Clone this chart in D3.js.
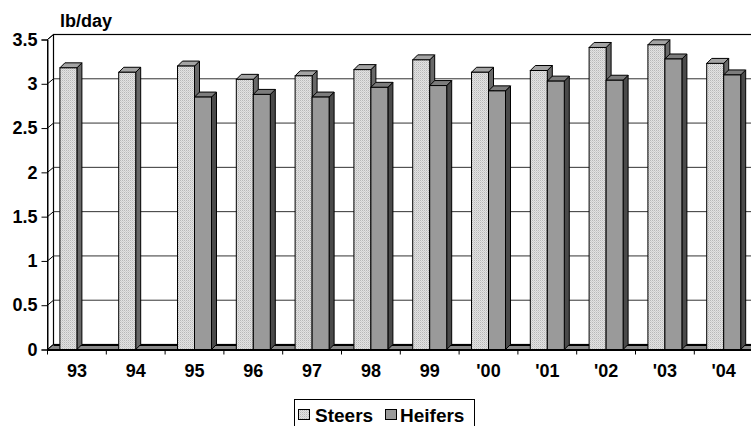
<!DOCTYPE html>
<html><head><meta charset="utf-8">
<script src="https://cdn.jsdelivr.net/npm/d3@7"></script>
<style>
html,body{margin:0;padding:0;background:#fff;}
svg{display:block;font-family:Arial,"Liberation Sans",sans-serif;font-weight:bold;}
</style></head>
<body><svg id="c" width="751" height="426"></svg>
<script>
const categories = ["93","94","95","96","97","98","99","'00","'01","'02","'03","'04"];
const steers  = [3.18, 3.13, 3.20, 3.05, 3.09, 3.16, 3.27, 3.13, 3.15, 3.41, 3.44, 3.23];
const heifers = [null, null, 2.85, 2.88, 2.85, 2.96, 2.98, 2.92, 3.03, 3.04, 3.28, 3.10];
const yTicks = [0, 0.5, 1, 1.5, 2, 2.5, 3, 3.5];
const yTickLabels = ["0","0.5","1","1.5","2","2.5","3","3.5"];
const seriesNames = ["Steers","Heifers"];

const svg = d3.select("#c");
const defs = svg.append("defs");
const pat = defs.append("pattern").attr("id","dots").attr("width",2).attr("height",2).attr("patternUnits","userSpaceOnUse");
pat.append("rect").attr("width",2).attr("height",2).attr("fill","#e2e2e2");
pat.append("rect").attr("width",1).attr("height",1).attr("fill","#b8b8b8");
pat.append("rect").attr("x",1).attr("y",1).attr("width",1).attr("height",1).attr("fill","#cfcfcf");

const x0 = d3.scaleBand().domain(categories).range([47.5, 753.1]).paddingInner(0).paddingOuter(0);
const x1 = d3.scaleBand().domain(seriesNames).range([0, x0.bandwidth()]).paddingInner(0).paddingOuter(0.73);
const y = d3.scaleLinear().domain([0, 3.5]).range([349.5, 39.5]);

const W = {dx: 6, dy: -5};   // wall depth
const B = {dx: 5, dy: -5};   // bar depth
const xL = 47.5, xR = 770;
const y0 = y(0), yTop = y(3.5);

svg.append("path").attr("d", `M${xL},${yTop}L${xL+W.dx},${yTop+W.dy}L${xL+W.dx},${y0+W.dy}L${xL},${y0}Z`)
  .attr("fill","#fff").attr("stroke","#000").attr("stroke-width",1);
svg.append("rect").attr("x", xL+W.dx).attr("y", yTop+W.dy).attr("width", xR-xL-W.dx).attr("height", y0-yTop)
  .attr("fill","#fff").attr("stroke","#000").attr("stroke-width",1.2);

const g = svg.append("g");
yTicks.filter(v => v > 0 && v < 3.5).forEach(v => {
  g.append("line").attr("x1", xL+W.dx).attr("x2", xR).attr("y1", y(v)+W.dy).attr("y2", y(v)+W.dy)
    .attr("stroke","#333").attr("stroke-width",1);
});
yTicks.forEach(v => {
  g.append("line").attr("x1", xL).attr("x2", xL+W.dx).attr("y1", y(v)).attr("y2", y(v)+W.dy)
    .attr("stroke","#000").attr("stroke-width",1);
});

svg.append("path").attr("d", `M${xL},${y0}L${xL+W.dx},${y0+W.dy}L${xR},${y0+W.dy}L${xR},${y0}Z`)
  .attr("fill","#8a8a8a").attr("stroke","#000").attr("stroke-width",1);
svg.append("line").attr("x1", xL+W.dx).attr("x2", xR).attr("y1", y0+W.dy+0.5).attr("y2", y0+W.dy+0.5)
  .attr("stroke","#000").attr("stroke-width",2);

const yAxis = d3.axisLeft(y).tickValues(yTicks).tickSize(6).tickFormat((d,i) => yTickLabels[i]);
const ya = svg.append("g").attr("transform", `translate(${xL},0)`).call(yAxis);
ya.select(".domain").attr("stroke","#000");
ya.selectAll(".tick line").attr("stroke","#000");
ya.selectAll(".tick text").attr("x", -10).attr("font-size", 18).attr("font-weight","bold")
  .attr("font-family","Arial, 'Liberation Sans', sans-serif").attr("fill","#000");

const faces = {
  Steers:  {front: "url(#dots)", top: "#a4a4a4", side: "#686868"},
  Heifers: {front: "#9a9a9a",   top: "#7c7c7c", side: "#4a4a4a"}
};
const bw = x1.bandwidth();
const bars = svg.append("g");
categories.forEach((c, i) => {
  [["Steers", steers[i]], ["Heifers", heifers[i]]].forEach(([s, v]) => {
    if (v == null) return;
    const bx = x0(c) + x1(s), yv = y(v);
    const f = faces[s];
    bars.append("path").attr("d", `M${bx+bw},${yv}L${bx+bw+B.dx},${yv+B.dy}L${bx+bw+B.dx},${y0+B.dy}L${bx+bw},${y0}Z`)
      .attr("fill", f.side).attr("stroke","#000").attr("stroke-width",1).attr("stroke-linejoin","round");
    bars.append("path").attr("d", `M${bx},${yv}L${bx+B.dx},${yv+B.dy}L${bx+bw+B.dx},${yv+B.dy}L${bx+bw},${yv}Z`)
      .attr("fill", f.top).attr("stroke","#000").attr("stroke-width",1).attr("stroke-linejoin","round");
    bars.append("rect").attr("x", bx).attr("y", yv).attr("width", bw).attr("height", y0 - yv)
      .attr("fill", f.front).attr("stroke","#000").attr("stroke-width",1);
  });
});

const xAxis = d3.axisBottom(x0).tickSize(0).tickPadding(0);
const xa = svg.append("g").attr("transform", `translate(0,${y0})`).call(xAxis);
xa.select(".domain").attr("d", `M${xL},0.5H${xR}`).attr("stroke","#000").attr("stroke-width",2);
xa.selectAll(".tick text").attr("y", 27).attr("dy", 0).attr("font-size", 18).attr("font-weight","bold")
  .attr("font-family","Arial, 'Liberation Sans', sans-serif").attr("fill","#000");
categories.forEach(c => {
  xa.append("line").attr("x1", x0(c)).attr("x2", x0(c)).attr("y1", 0).attr("y2", 5).attr("stroke","#000");
});

svg.append("text").attr("x", 60).attr("y", 27).attr("font-size", 18).text("lb/day");

const lg = svg.append("g");
lg.append("rect").attr("x", 294.5).attr("y", 399.5).attr("width", 180).attr("height", 40)
  .attr("fill","#fff").attr("stroke","#000");
const legendItems = [
  {name: seriesNames[0], fill: "url(#dots)", sx: 298.5, tx: 315},
  {name: seriesNames[1], fill: faces.Heifers.front, sx: 385.5, tx: 400}
];
legendItems.forEach(it => {
  lg.append("rect").attr("x", it.sx).attr("y", 409.5).attr("width", 11).attr("height", 10)
    .attr("fill", it.fill).attr("stroke","#000");
  lg.append("text").attr("x", it.tx).attr("y", 422).attr("font-size", 19).text(it.name);
});
</script></body></html>
